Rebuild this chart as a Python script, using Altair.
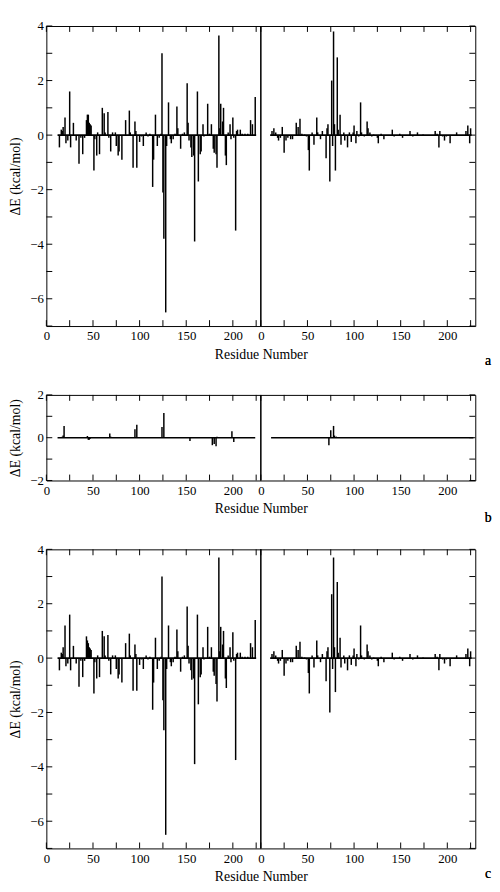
import altair as alt
import pandas as pd

# ---------------- data ----------------
# Panel a, chain 1 (residue, dE)
a1_res = [14, 16, 17, 18, 20, 21, 23, 25, 26, 29, 32, 35, 37, 39, 41, 43, 44, 45, 46, 47, 48,
          51, 52, 54, 55, 57, 60, 62, 63, 66, 67, 69, 71, 74, 75, 77, 78, 81, 85, 89, 90, 93,
          95, 96, 97, 100, 102, 104, 107, 109, 111, 114, 115, 117, 119, 121, 123, 124, 125,
          126, 128, 129, 131, 133, 134, 136, 138, 140, 141, 144, 146, 148, 151, 152, 153, 155,
          156, 158, 159, 162, 163, 165, 166, 168, 169, 173, 175, 177, 179, 180, 182, 183, 185,
          186, 187, 189, 190, 192, 193, 195, 197, 198, 200, 201, 203, 204, 205, 208, 210, 213,
          216, 219, 221, 224]
a1_val = [-0.45, 0.2, 0.15, 0.3, 0.65, -0.3, -0.2, 1.6, -0.45, 0.45, -0.2, -1.05, -0.1, -0.7,
          -0.1, 0.55, 0.75, 0.75, 0.45, 0.4, 0.35, -1.3, -0.15, -0.75, 0.1, -0.7, 1.0, 0.8, 0.1,
          0.85, -0.1, -0.6, 0.1, 0.1, -0.4, -0.75, -0.6, -0.9, 0.55, 0.9, 0.1, -1.2, 0.5, 0.15,
          -1.2, -0.25, -0.05, -0.4, 0.1, -0.05, 0.05, -1.9, -0.9, 0.75, -0.4, -0.1, 0.05, 3.0,
          -2.1, -3.8, -6.5, -0.4, 1.2, -0.15, -0.3, -0.15, 0.05, 1.05, 0.25, -0.5, 0.05, 0.1,
          1.9, 0.45, -0.2, -0.45, -0.8, -0.75, -3.9, 1.6, -1.7, -0.7, -0.6, 0.4, -0.05, 1.15,
          0.05, 0.4, -0.5, -0.65, -0.7, -1.2, 3.65, 0.25, 1.15, 0.5, 1.0, -0.75, -1.1, 0.1, 0.4,
          -0.15, 0.65, -0.1, -3.5, 0.15, 0.2, 0.2, 0.05, 0.05, 0.05, 0.55, 0.4, 1.4]
a1_span = [12, 225]

# Panel a, chain 2
a2_res = [12, 14, 16, 18, 19, 21, 23, 25, 27, 29, 32, 34, 38, 40, 42, 44, 47, 49, 51, 52, 55,
          57, 60, 61, 64, 66, 70, 71, 72, 74, 76, 77, 78, 79, 80, 82, 83, 85, 86, 89, 90, 93,
          95, 97, 99, 100, 102, 103, 105, 107, 108, 111, 114, 115, 117, 119, 121, 125, 126,
          129, 132, 141, 143, 149, 152, 160, 163, 168, 174, 187, 189, 191, 192, 195, 197, 199,
          203, 210, 220, 222, 224, 225]
a2_val = [0.15, 0.25, 0.1, -0.1, -0.2, -0.1, 0.3, -0.65, -0.2, -0.1, -0.15, -0.15, 0.45, 0.3,
          0.6, 0.05, 0.02, -0.05, -0.55, -1.3, 0.1, -0.35, 0.65, 0.1, -0.15, 0.15, -0.85, 0.25,
          0.4, -1.7, 2.0, -0.4, 3.8, 0.4, -1.3, 2.85, 0.2, 0.75, -0.35, 0.1, -0.2, -0.45, 0.1,
          -0.25, 0.1, 0.35, -0.3, 0.15, -0.05, 1.2, 0.1, -0.05, 0.5, 0.25, 0.1, -0.05, 0.02,
          -0.1, -0.3, 0.05, -0.15, 0.2, -0.05, 0.05, -0.1, 0.15, -0.05, 0.1, 0.02, 0.15, 0.05,
          -0.45, 0.15, -0.05, -0.2, -0.05, -0.3, 0.1, 0.15, 0.35, -0.3, 0.25]
a2_span = [10, 226]

# Panel b, chain 1
b1_res = [17, 18, 19, 44, 45, 46, 47, 68, 69, 72, 95, 97, 124, 126, 154, 178, 180, 182, 183,
          199, 201]
b1_val = [0.05, 0.1, 0.55, 0.08, -0.1, -0.1, -0.05, 0.2, 0.05, 0.02, 0.4, 0.6, 0.5, 1.15,
          -0.15, -0.35, -0.3, -0.4, 0.05, 0.3, -0.2]
b1_span = [12, 224]

# Panel b, chain 2
b2_res = [73, 75, 78, 79, 81, 100, 105]
b2_val = [-0.35, 0.35, 0.55, 0.1, 0.05, 0.03, 0.02]
b2_span = [11, 228]

# Panel c, chain 1
c1_res = a1_res
c1_val = [-0.45, 0.2, 0.15, 0.4, 1.2, -0.3, -0.2, 1.6, -0.45, 0.45, -0.2, -1.05, -0.1, -0.7,
          -0.1, 0.8, 0.65, 0.55, 0.4, 0.35, 0.3, -1.3, -0.15, -0.75, 0.1, -0.7, 1.0, 0.8, 0.1,
          0.85, -0.1, -0.6, 0.1, 0.1, -0.4, -0.75, -0.6, -0.9, 0.55, 0.9, 0.1, -1.2, 0.5, 0.15,
          -1.2, -0.25, -0.05, -0.4, 0.1, -0.05, 0.05, -1.9, -0.9, 0.75, -0.4, -0.1, 0.05, 3.0,
          -1.55, -2.65, -6.5, -0.4, 1.2, -0.15, -0.3, -0.15, 0.05, 1.05, 0.25, -0.5, 0.05, 0.1,
          1.9, 0.45, -0.2, -0.45, -0.8, -0.75, -3.9, 1.6, -1.7, -0.7, -0.6, 0.4, -0.05, 1.15,
          0.05, 0.4, -0.5, -0.65, -0.95, -1.6, 3.7, 0.25, 1.15, 0.5, 1.0, -0.75, -1.1, 0.1, 0.4,
          -0.15, 0.95, -0.1, -3.75, 0.15, 0.2, 0.2, 0.05, 0.05, 0.05, 0.55, 0.4, 1.4]
c1_span = [12, 225]

# Panel c, chain 2
c2_res = a2_res
c2_val = [0.15, 0.25, 0.1, -0.1, -0.2, -0.1, 0.3, -0.65, -0.2, -0.1, -0.15, -0.15, 0.45, 0.3,
          0.6, 0.05, 0.02, -0.05, -0.55, -1.3, 0.1, -0.35, 0.65, 0.1, -0.15, 0.15, -0.85, 0.25,
          0.4, -2.0, 2.35, -0.4, 3.7, 0.4, -1.25, 2.8, 0.2, 0.75, -0.35, 0.1, -0.2, -0.45, 0.1,
          -0.25, 0.1, 0.35, -0.3, 0.15, -0.05, 1.2, 0.1, -0.05, 0.5, 0.25, 0.1, -0.05, 0.02,
          -0.1, -0.3, 0.05, -0.15, 0.2, -0.05, 0.05, -0.1, 0.15, -0.05, 0.1, 0.02, 0.15, 0.05,
          -0.45, 0.15, -0.05, -0.2, -0.05, -0.3, 0.1, 0.15, 0.35, -0.3, 0.25]
c2_span = [10, 226]

# axis tick values
x_major = [0, 50, 100, 150, 200]
x_minor = [25, 75, 125, 175, 225]
y_major_big = [-6, -4, -2, 0, 2, 4]
y_minor_big = [-7, -5, -3, -1, 1, 3]
y_major_small = [-2, 0, 2]
y_minor_small = [-1, 1]

# ---------------- layout ----------------
W = 436
OFF = 230
XMAX = 460
FONT = "Liberation Serif"
TL = 6
XT = "Residue Number"
YT = "ΔE (kcal/mol)"


def panel(r1, v1, s1, r2, v2, s2, ydom, ymaj, ymin, H, letter, letter_y):
    imp = pd.DataFrame({"pos": list(r1) + [r + OFF for r in r2], "val": list(v1) + list(v2)})
    base = pd.DataFrame({"x1": [s1[0], s2[0] + OFF], "x2": [s1[1], s2[1] + OFF]})
    xt = pd.DataFrame({"t": x_major + x_minor + [t + OFF for t in x_major + x_minor]})
    yt = pd.DataFrame({"t": ymaj + ymin})
    xs = alt.Scale(domain=[0, XMAX], nice=False, zero=False)
    ys = alt.Scale(domain=ydom, nice=False, zero=False)

    xaxis = alt.Axis(values=x_major + [t + OFF for t in x_major],
                     labelExpr="datum.value >= 230 ? format(datum.value - 230, 'd') : format(datum.value, 'd')",
                     title=XT, ticks=False, domain=False, grid=False,
                     labelFlush=False, labelOverlap=False, labelPadding=4, titlePadding=5)
    yaxis = alt.Axis(values=ymaj, title=YT, ticks=False, domain=False, grid=False,
                     labelFlush=False, labelOverlap=False, labelPadding=3, titlePadding=7,
                     format="d")

    impulses = alt.Chart(imp).mark_rule(color="black", strokeWidth=1.5).encode(
        x=alt.X("pos:Q", scale=xs, axis=xaxis),
        y=alt.Y("val:Q", scale=ys, axis=yaxis),
        y2=alt.datum(0),
    )
    baseline = alt.Chart(base).mark_rule(color="black", strokeWidth=1.6).encode(
        x=alt.X("x1:Q", scale=xs, title=XT),
        x2="x2:Q",
        y=alt.Y(datum=0, scale=ys, title=YT),
    )
    sep = alt.Chart(base).mark_rule(color="black", strokeWidth=1.1).encode(
        x=alt.X(datum=OFF, scale=xs, title=XT),
        y=alt.value(0),
        y2=alt.value(H),
    )
    xb = alt.Chart(xt).mark_rule(color="black", strokeWidth=1).encode(
        x=alt.X("t:Q", scale=xs, title=XT), y=alt.value(H), y2=alt.value(H - TL))
    xtp = alt.Chart(xt).mark_rule(color="black", strokeWidth=1).encode(
        x=alt.X("t:Q", scale=xs, title=XT), y=alt.value(0), y2=alt.value(TL))
    yl = alt.Chart(yt).mark_rule(color="black", strokeWidth=1).encode(
        y=alt.Y("t:Q", scale=ys, title=YT), x=alt.value(0), x2=alt.value(TL))
    yr = alt.Chart(yt).mark_rule(color="black", strokeWidth=1).encode(
        y=alt.Y("t:Q", scale=ys, title=YT), x=alt.value(W), x2=alt.value(W - TL))
    lab = alt.Chart(base).mark_text(font=FONT, fontSize=14, color="black",
                                   baseline="middle", align="center").encode(
        x=alt.value(W + 13), y=alt.value(letter_y), text=alt.value(letter))

    return alt.layer(impulses, baseline, sep, xb, xtp, yl, yr, lab).properties(width=W, height=H)


pa = panel(a1_res, a1_val, a1_span, a2_res, a2_val, a2_span, [-7, 4], y_major_big, y_minor_big,
           305, "a", 305 + 36)
pb = panel(b1_res, b1_val, b1_span, b2_res, b2_val, b2_span, [-2, 2], y_major_small, y_minor_small,
           87, "b", 87 + 38)
pc = panel(c1_res, c1_val, c1_span, c2_res, c2_val, c2_span, [-7, 4], y_major_big, y_minor_big,
           304, "c", 304 + 26)

chart = alt.vconcat(pa, pb, pc, spacing=70, bounds="flush").configure(
    padding={"left": 0, "top": 4, "right": 0, "bottom": 0}
).configure_view(stroke="black", strokeWidth=1).configure_axis(
    labelFont=FONT, labelFontSize=13, labelColor="black",
    titleFont=FONT, titleFontSize=14, titleFontWeight="normal", titleColor="black"
)

chart.save("out.html", embed_options={"renderer": "svg", "actions": False})
